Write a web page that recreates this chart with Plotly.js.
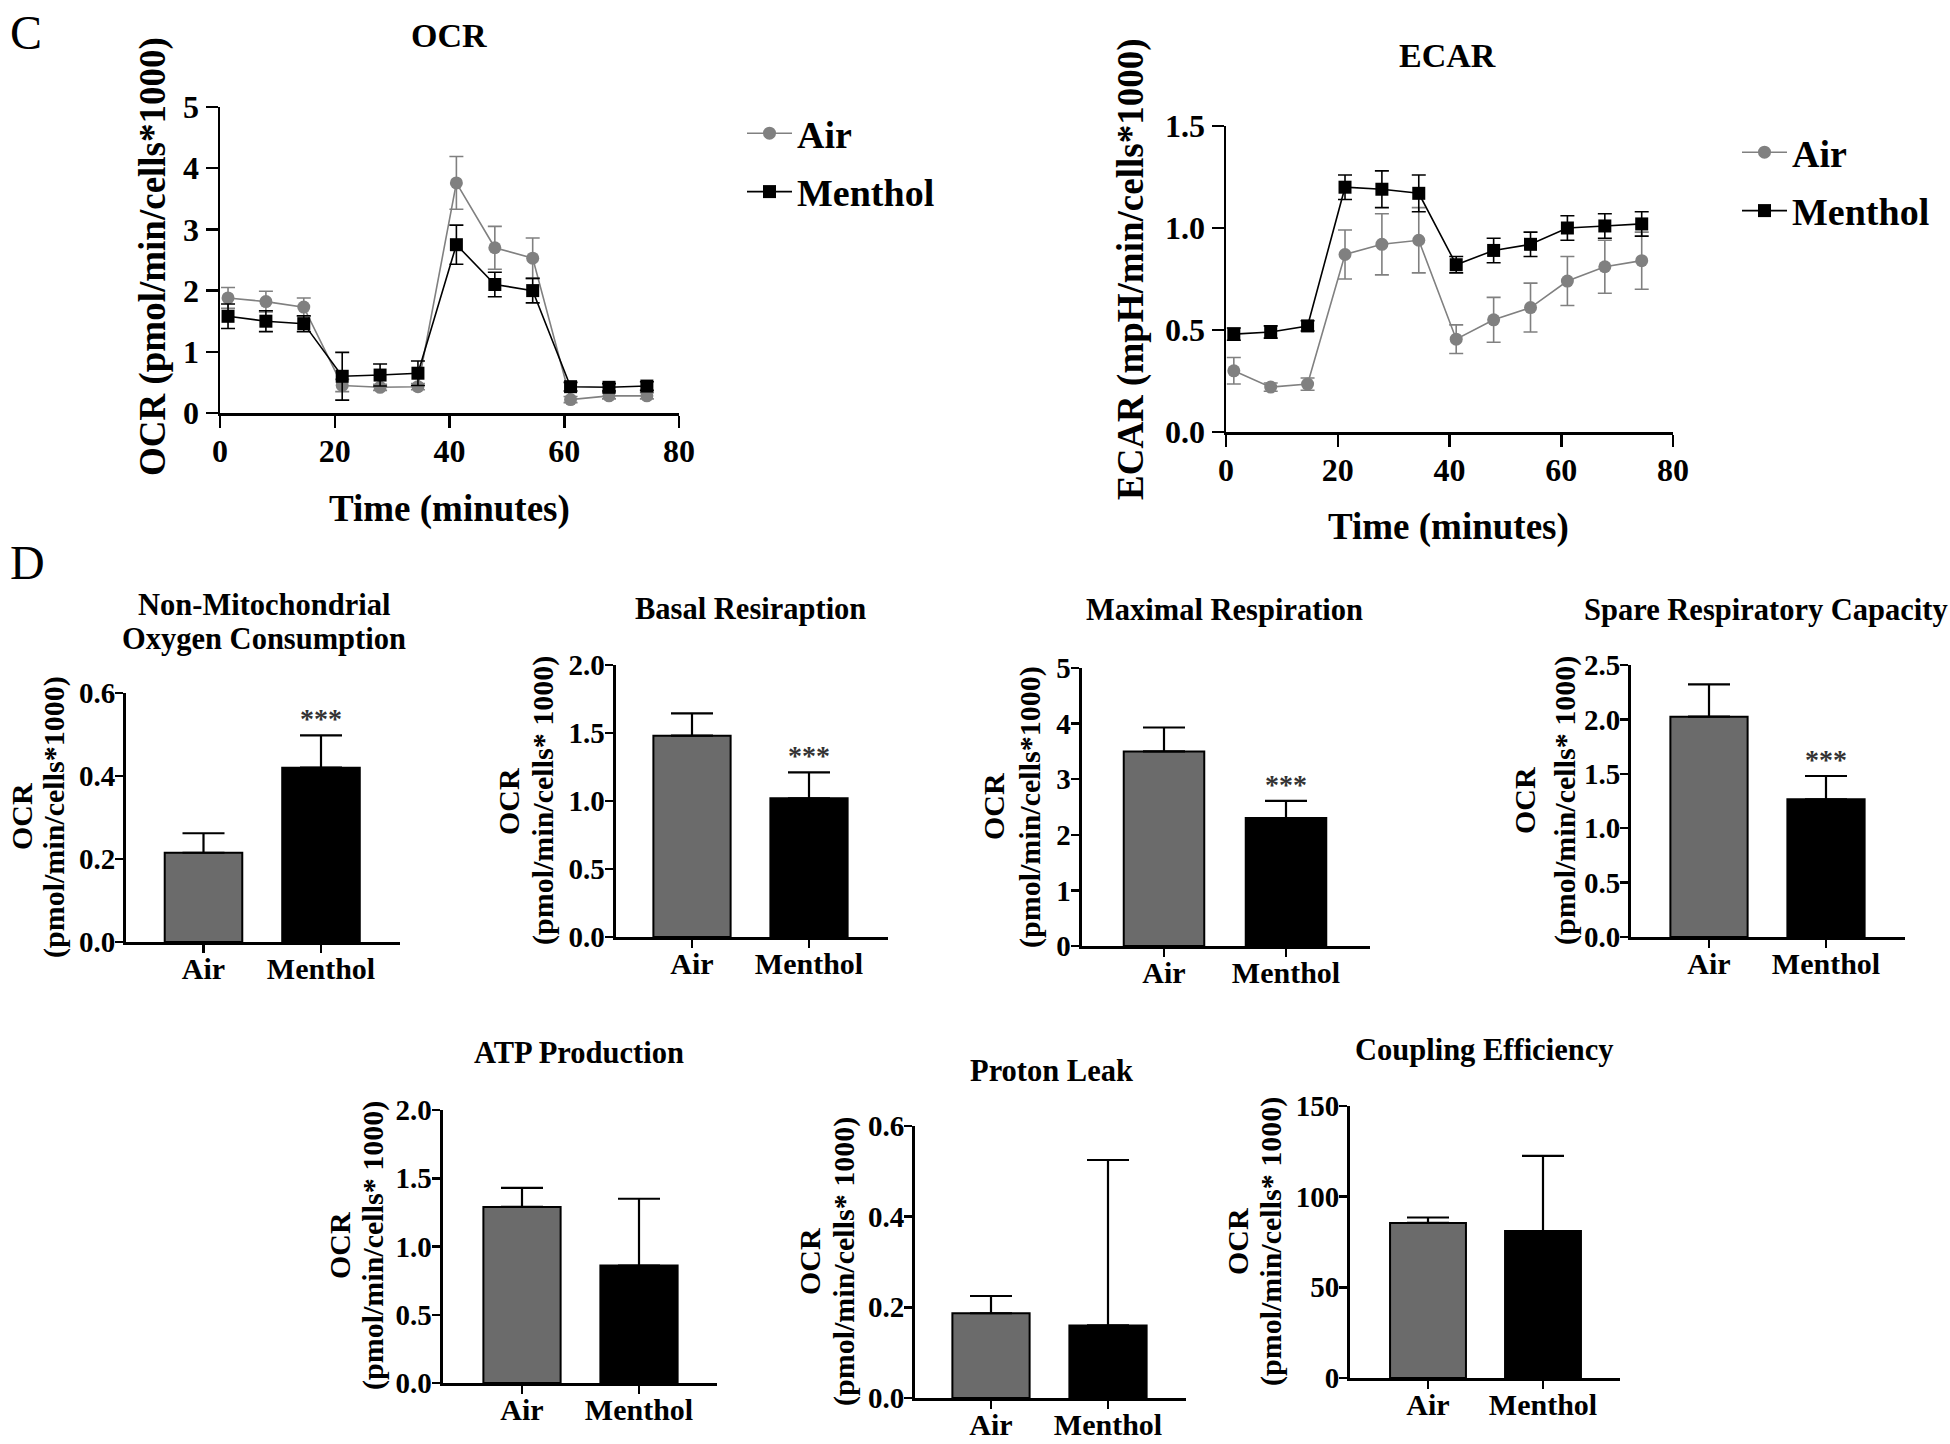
<!DOCTYPE html>
<html><head><meta charset="utf-8">
<script src="https://cdn.plot.ly/plotly-3.0.1.min.js"></script>
<style>html,body{margin:0;padding:0;background:#fff}#chart{width:1950px;height:1444px}</style>
</head><body><div id="chart"></div>
<script>
// ---------- DATA ----------
const timeMin = [1.4, 8.0, 14.6, 21.3, 27.9, 34.5, 41.2, 47.9, 54.5, 61.1, 67.8, 74.4];
const seriesNames = ['Air', 'Menthol'];

const ocrAir        = [1.88, 1.82, 1.73, 0.45, 0.42, 0.43, 3.76, 2.70, 2.53, 0.22, 0.28, 0.28];
const ocrAirErr     = [0.17, 0.17, 0.15, 0.10, 0.05, 0.05, 0.43, 0.35, 0.33, 0.05, 0.05, 0.05];
const ocrMenthol    = [1.58, 1.50, 1.46, 0.60, 0.62, 0.65, 2.75, 2.10, 2.00, 0.43, 0.42, 0.44];
const ocrMentholErr = [0.20, 0.17, 0.13, 0.39, 0.18, 0.20, 0.32, 0.20, 0.20, 0.07, 0.06, 0.07];

const ecarAir        = [0.30, 0.22, 0.235, 0.87, 0.92, 0.94, 0.455, 0.55, 0.61, 0.74, 0.81, 0.84];
const ecarAirErr     = [0.065, 0.02, 0.03, 0.12, 0.15, 0.16, 0.07, 0.11, 0.12, 0.12, 0.13, 0.14];
const ecarMenthol    = [0.48, 0.49, 0.52, 1.20, 1.19, 1.17, 0.82, 0.89, 0.92, 1.00, 1.01, 1.02];
const ecarMentholErr = [0.03, 0.03, 0.025, 0.06, 0.09, 0.09, 0.04, 0.06, 0.06, 0.06, 0.06, 0.06];

const groups = ['Air', 'Menthol'];
const nonMitoMean  = [0.215, 0.42];  const nonMitoSD  = [0.047, 0.078];
const basalMean    = [1.48, 1.02];   const basalSD    = [0.165, 0.19];
const maximalMean  = [3.50, 2.30];   const maximalSD  = [0.43, 0.31];
const spareMean    = [2.025, 1.265]; const spareSD    = [0.297, 0.215];
const atpMean      = [1.29, 0.86];   const atpSD      = [0.14, 0.49];
const protonMean   = [0.187, 0.16];  const protonSD   = [0.038, 0.365];
const couplingMean = [85.5, 81.0];   const couplingSD = [3.0, 41.5];
const sigStars     = ['', '***'];
const noStars      = ['', ''];

const ocrTicks   = [0, 1, 2, 3, 4, 5];
const ecarTicks  = [0, 0.5, 1.0, 1.5];
const timeTicks  = [0, 20, 40, 60, 80];

// ---------- STYLE / LAYOUT ----------
const W = 1950, H = 1444;
const F = 'Liberation Serif, Times New Roman, serif';
const GRAY = '#808080', BARGRAY = '#6b6b6b', BLACK = '#000000';
const px = v => v / W, py = v => 1 - v / H;

const traces = [];
const annotations = [];
const layout = {
  width: W, height: H, margin: {l: 0, r: 0, t: 0, b: 0},
  paper_bgcolor: '#fff', plot_bgcolor: 'rgba(0,0,0,0)',
  font: {family: F, color: BLACK},
  showlegend: true,
  annotations: annotations
};

function axisBase(o) {
  return Object.assign({
    showline: true, linecolor: BLACK, showgrid: false, zeroline: false,
    ticks: 'outside', tickcolor: BLACK, fixedrange: true
  }, o);
}

function lineTrace(x, y, err, name, color, symbol, xa, ya, leg) {
  return {
    type: 'scatter', mode: 'lines+markers', x: x, y: y, name: name,
    legend: leg, legendgroup: leg + name, xaxis: xa, yaxis: ya,
    line: {color: color, width: 1.6},
    marker: {color: color, symbol: symbol, size: 13, line: {width: 0}},
    error_y: {type: 'data', array: err, visible: true, color: color, thickness: 1.6, width: 7},
    cliponaxis: false
  };
}

// Panel C: time courses
traces.push(lineTrace(timeMin, ocrAir, ocrAirErr, seriesNames[0], GRAY, 'circle', 'x', 'y', 'legend'));
traces.push(lineTrace(timeMin, ocrMenthol, ocrMentholErr, seriesNames[1], BLACK, 'square', 'x', 'y', 'legend'));
traces.push(lineTrace(timeMin, ecarAir, ecarAirErr, seriesNames[0], GRAY, 'circle', 'x2', 'y2', 'legend2'));
traces.push(lineTrace(timeMin, ecarMenthol, ecarMentholErr, seriesNames[1], BLACK, 'square', 'x2', 'y2', 'legend2'));

const lineTickFont = {family: F, size: 32, weight: 'bold', color: BLACK};
const lineAx = {linewidth: 2.5, ticklen: 12, tickwidth: 2.5, tickfont: lineTickFont};
layout.xaxis = axisBase(Object.assign({domain: [px(220), px(679)], anchor: 'y', range: [0, 80],
  tickvals: timeTicks, ticklabelstandoff: -4}, lineAx));
layout.yaxis = axisBase(Object.assign({domain: [py(413), py(107)], anchor: 'x', range: [0, 5],
  tickvals: ocrTicks}, lineAx));
layout.xaxis2 = axisBase(Object.assign({domain: [px(1226), px(1673)], anchor: 'y2', range: [0, 80],
  tickvals: timeTicks, ticklabelstandoff: -4}, lineAx));
layout.yaxis2 = axisBase(Object.assign({domain: [py(432), py(126)], anchor: 'x2', range: [0, 1.5],
  tickvals: ecarTicks, tickformat: '.1f'}, lineAx));

const legFont = {family: F, size: 38, weight: 'bold', color: BLACK};
layout.legend = {x: px(742), y: py(102), xanchor: 'left', yanchor: 'top', font: legFont,
  bgcolor: 'rgba(0,0,0,0)', tracegroupgap: 6, itemwidth: 45, itemclick: false};
layout.legend2 = {x: px(1737), y: py(121), xanchor: 'left', yanchor: 'top', font: legFont,
  bgcolor: 'rgba(0,0,0,0)', tracegroupgap: 6, itemwidth: 45, itemclick: false};

function txt(text, x, y, size, opts) {
  annotations.push(Object.assign({
    text: text, x: px(x), y: py(y), xref: 'paper', yref: 'paper', showarrow: false,
    xanchor: 'center', yanchor: 'middle',
    font: {family: F, size: size, weight: 'bold', color: BLACK}
  }, opts || {}));
}

txt('C', 8, 4, 48, {xanchor: 'left', yanchor: 'top', font: {family: F, size: 48, color: BLACK}});
txt('D', 8, 534, 48, {xanchor: 'left', yanchor: 'top', font: {family: F, size: 48, color: BLACK}});
txt('OCR', 449, 36, 34);
txt('ECAR', 1447, 55, 34);
txt('OCR (pmol/min/cells*1000)', 153, 257, 37, {textangle: -90});
txt('ECAR (mpH/min/cells*1000)', 1131, 270, 37, {textangle: -90});
txt('Time (minutes)', 449, 509, 37);
txt('Time (minutes)', 1448, 527, 37);

// Panel D: bar charts
const barPanels = [
  {title: ['Non-Mitochondrial', 'Oxygen Consumption'], mean: nonMitoMean, sd: nonMitoSD, stars: sigStars,
   ticks: [0, 0.2, 0.4, 0.6], fmt: '.1f', yMax: 0.6, ylab: '(pmol/min/cells*1000)',
   xL: 126, xR: 400, c0: 203.5, c1: 321, y0: 942, yT: 693, tx: 264, ty: [605, 639], l1: 21, l2: 54, ly: 817},
  {title: ['Basal Resiraption'], mean: basalMean, sd: basalSD, stars: sigStars,
   ticks: [0, 0.5, 1.0, 1.5, 2.0], fmt: '.1f', yMax: 2.0, ylab: '(pmol/min/cells* 1000)',
   xL: 615.6, xR: 887.5, c0: 692, c1: 809, y0: 937, yT: 665, tx: 750, ty: [609], l1: 508, l2: 543, ly: 801},
  {title: ['Maximal Respiration'], mean: maximalMean, sd: maximalSD, stars: sigStars,
   ticks: [0, 1, 2, 3, 4, 5], fmt: 'd', yMax: 5, ylab: '(pmol/min/cells*1000)',
   xL: 1081.5, xR: 1370, c0: 1164, c1: 1286, y0: 946, yT: 668, tx: 1224, ty: [610], l1: 993, l2: 1030, ly: 807},
  {title: ['Spare Respiratory Capacity'], mean: spareMean, sd: spareSD, stars: sigStars,
   ticks: [0, 0.5, 1.0, 1.5, 2.0, 2.5], fmt: '.1f', yMax: 2.5, ylab: '(pmol/min/cells* 1000)',
   xL: 1631, xR: 1905, c0: 1709, c1: 1826, y0: 937, yT: 665, tx: 1766, ty: [610], l1: 1524, l2: 1565, ly: 801},
  {title: ['ATP Production'], mean: atpMean, sd: atpSD, stars: noStars,
   ticks: [0, 0.5, 1.0, 1.5, 2.0], fmt: '.1f', yMax: 2.0, ylab: '(pmol/min/cells* 1000)',
   xL: 442.5, xR: 717, c0: 522, c1: 639, y0: 1383, yT: 1110, tx: 579, ty: [1053], l1: 339, l2: 373, ly: 1246},
  {title: ['Proton Leak'], mean: protonMean, sd: protonSD, stars: noStars,
   ticks: [0, 0.2, 0.4, 0.6], fmt: '.1f', yMax: 0.6, ylab: '(pmol/min/cells* 1000)',
   xL: 915, xR: 1186, c0: 991, c1: 1108, y0: 1398, yT: 1126, tx: 1051, ty: [1071], l1: 809, l2: 844, ly: 1262},
  {title: ['Coupling Efficiency'], mean: couplingMean, sd: couplingSD, stars: noStars,
   ticks: [0, 50, 100, 150], fmt: 'd', yMax: 150, ylab: '(pmol/min/cells* 1000)',
   xL: 1350, xR: 1620, c0: 1428, c1: 1543, y0: 1378, yT: 1106, tx: 1484, ty: [1050], l1: 1237, l2: 1271, ly: 1242}
];

const barTickFont = {family: F, size: 29, weight: 'bold', color: BLACK};
const catFont = {family: F, size: 30, weight: 'bold', color: BLACK};

barPanels.forEach((p, i) => {
  const n = i + 3;
  const xa = 'x' + n, ya = 'y' + n;
  const sp = p.c1 - p.c0;
  layout['xaxis' + n] = axisBase({
    domain: [px(p.xL), px(p.xR)], anchor: ya, type: 'category',
    range: [-(p.c0 - p.xL) / sp, 1 + (p.xR - p.c1) / sp],
    linewidth: 3, ticklen: 8, tickwidth: 2.5, tickfont: catFont, ticklabelstandoff: -10
  });
  layout['yaxis' + n] = axisBase({
    domain: [py(p.y0), py(p.yT)], anchor: xa, range: [0, p.yMax],
    tickvals: p.ticks, tickformat: p.fmt, ticklabelstandoff: -6,
    linewidth: 3, ticklen: 8, tickwidth: 2.5, tickfont: barTickFont
  });
  traces.push({
    type: 'bar', x: groups, y: p.mean, width: 0.66, xaxis: xa, yaxis: ya, showlegend: false,
    marker: {color: [BARGRAY, BLACK], line: {color: BLACK, width: 2}},
    error_y: {type: 'data', symmetric: false, array: p.sd, arrayminus: [0, 0],
              color: BLACK, thickness: 2.2, width: 21},
    cliponaxis: false
  });
  p.title.forEach((t, k) => txt(t, p.tx, p.ty[k], 30.5));
  txt('OCR', p.l1, p.ly, 30, {textangle: -90});
  txt(p.ylab, p.l2, p.ly, 30, {textangle: -90});
  p.stars.forEach((s, j) => {
    if (!s) return;
    annotations.push({
      text: s, x: groups[j], y: p.mean[j] + p.sd[j], xref: xa, yref: ya,
      showarrow: false, xanchor: 'center', yanchor: 'bottom', yshift: -1,
      font: {family: F, size: 28, weight: 'bold', color: '#333333'}
    });
  });
});

Plotly.newPlot('chart', traces, layout, {displayModeBar: false, staticPlot: true});
</script>
</body></html>
